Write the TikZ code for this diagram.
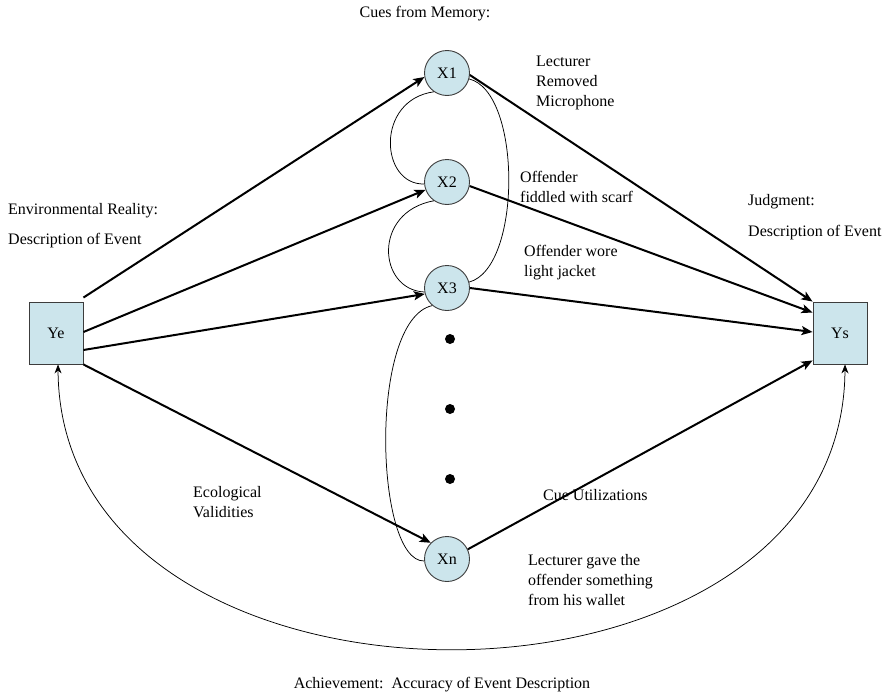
\documentclass[tikz,border=0pt]{standalone}
\usepackage{fontspec}
\setmainfont{Liberation Serif}
\usetikzlibrary{arrows.meta,calc}
\definecolor{cuefill}{RGB}{204,229,236}
\definecolor{edgegray}{RGB}{60,60,60}
\begin{document}
\begin{tikzpicture}[x=1pt,y=-1pt,
  font=\fontsize{16}{20}\selectfont,
  box/.style={draw=edgegray,line width=0.9pt,fill=cuefill,minimum width=54pt,minimum height=62pt,inner sep=0pt},
  cue/.style={circle,draw=edgegray,line width=0.9pt,fill=cuefill,minimum size=45pt,inner sep=0pt},
  lbl/.style={inner sep=0pt,align=left,anchor=west},
  strong/.style={line width=2pt,-{Stealth[length=11pt,width=9pt,inset=2.5pt]}},
  thin/.style={line width=0.75pt},
  blob/.style={circle,fill=black,minimum size=10pt,inner sep=0pt}]
\useasboundingbox (0,0) rectangle (888,696);

\node[box] (Ye) at (56,333) {Ye};
\node[box] (Ys) at (840,333) {Ys};
\node[cue] (X1) at (447,73) {X1};
\node[cue] (X2) at (447,182) {X2};
\node[cue] (X3) at (447,288) {X3};
\node[cue] (Xn) at (447,559) {Xn};
\node[blob] (d1) at (450,339) {};
\node[blob] (d2) at (450,409) {};
\node[blob] (d3) at (450,479) {};

\node[inner sep=0pt] (cues) at (425,14) {Cues from Memory:};
\node[lbl] (env) at (8,211) {Environmental Reality:};
\node[lbl] (envd) at (8,241) {Description of Event};
\node[lbl] (jud) at (748,202) {Judgment:};
\node[lbl] (judd) at (748,233) {Description of Event};
\node[lbl] (t1) at (536,83) {Lecturer\\Removed\\Microphone};
\node[lbl] (t2) at (520,187) {Offender\\fiddled with scarf};
\node[lbl] (t3) at (524,263) {Offender wore\\light jacket};
\node[lbl] (eco) at (193,502) {Ecological\\Validities};
\node[lbl] (cueu) at (543,495) {Cue Utilizations};
\node[lbl] (tn) at (528,580) {Lecturer gave the\\offender something\\from his wallet};
\node[inner sep=0pt] (ach) at (442,685) {Achievement:\ \ Accuracy of Event Description};

% ecological validities
\draw[strong] ([yshift=4pt]Ye.north east) -- (X1.190);
\draw[strong] ([yshift=1pt]Ye.east) -- (X2.200);
\draw[strong] ([yshift=-17pt]Ye.east) -- (X3.195);
\draw[strong] (Ye.south east) -- (Xn.135);
% cue utilizations
\draw[strong] (X1.-5) -- (Ys.north west);
\draw[strong] (X2.-10) -- ([yshift=-11pt]Ys.north west);
\draw[strong] (X3.0) -- ([yshift=1pt]Ys.west);
\draw[strong] (Xn.25) -- ([yshift=4pt]Ys.south west);
% intercorrelations
\draw[thin] (X1.235) .. controls (375,100) and (380,185) .. (X2.185);
\draw[thin] (X2.235) .. controls (372,212) and (378,290) .. (X3.190);
\draw[thin] (X1.-15) .. controls (522,92) and (522,268) .. (X3.15);
\draw[thin] (X3.230) .. controls (368,320) and (375,562) .. (Xn.185);
% achievement
\draw[thin,{Stealth[length=9pt,width=7pt]}-{Stealth[length=9pt,width=7pt]}] ([xshift=2pt]Ye.south) .. controls (60,743) and (843,743) .. ([xshift=5pt]Ys.south);
\end{tikzpicture}
\end{document}
